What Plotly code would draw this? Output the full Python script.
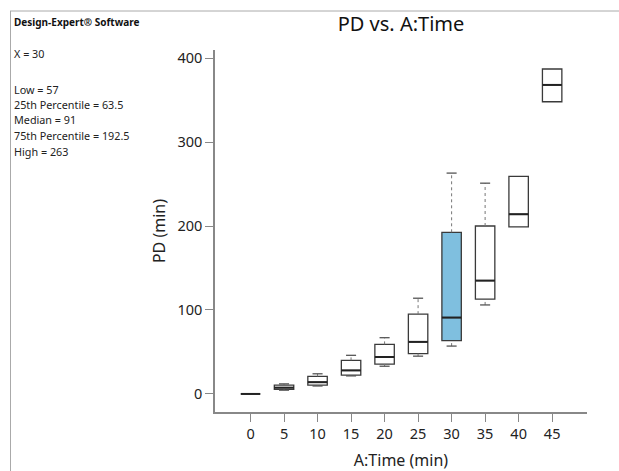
import plotly.graph_objects as go

times = [0, 5, 10, 15, 20, 25, 30, 35, 40, 45]
low = [0, 4.5, 9.5, 21.5, 33, 45, 57, 106, 199, 348]
q1 = [0, 5.5, 10.5, 22.5, 35.5, 48, 63.5, 113, 199, 348]
median = [0, 7.5, 14, 28, 44, 62, 91, 135, 214, 368]
q3 = [0, 10.5, 21, 40, 59, 95, 192.5, 200, 259, 387]
high = [0, 12, 24, 46, 67, 114, 263, 251, 259, 387]
selected = 30
info_lines = ["X = 30", "", "Low = 57", "25th Percentile = 63.5", "Median = 91",
              "75th Percentile = 192.5", "High = 263"]

FONT = "Noto Sans"
box_w = 2.9
cap_w = 1.5

fig = go.Figure()
for i, t in enumerate(times):
    fig.add_trace(go.Box(
        x=[t], q1=[q1[i]], median=[median[i]], q3=[q3[i]],
        lowerfence=[q1[i]], upperfence=[q3[i]],
        width=box_w, whiskerwidth=0,
        fillcolor="#7fbfdf" if t == selected else "white",
        line=dict(color="#3a3a3a", width=1.3),
        boxpoints=False, hoverinfo="skip", showlegend=False))

wx, wy, cx, cy, mx, my = [], [], [], [], [], []
for i, t in enumerate(times):
    if high[i] > q3[i]:
        wx += [t, t, None]; wy += [q3[i], high[i], None]
        cx += [t - cap_w / 2, t + cap_w / 2, None]; cy += [high[i], high[i], None]
    if low[i] < q1[i]:
        wx += [t, t, None]; wy += [low[i], q1[i], None]
        cx += [t - cap_w / 2, t + cap_w / 2, None]; cy += [low[i], low[i], None]
    mx += [t - box_w / 2, t + box_w / 2, None]; my += [median[i], median[i], None]
fig.add_trace(go.Scatter(x=wx, y=wy, mode="lines", line=dict(color="#777", width=1, dash="dot"),
                         showlegend=False, hoverinfo="skip"))
fig.add_trace(go.Scatter(x=cx, y=cy, mode="lines", line=dict(color="#555", width=1.3),
                         showlegend=False, hoverinfo="skip"))
fig.add_trace(go.Scatter(x=mx, y=my, mode="lines", line=dict(color="#222", width=2),
                         showlegend=False, hoverinfo="skip"))

L, T, W, H = 215, 50, 372, 362
def px(x): return (x - L) / W
def py(y): return (T + H - y) / H

annotations = [dict(text="<b>Design-Expert® Software</b>", x=px(12), y=py(22), xref="paper", yref="paper",
                    xanchor="left", yanchor="middle", showarrow=False,
                    font=dict(family=FONT, size=10, color="#111"))]
ys = [54, None, 89, 104.3, 119.5, 135.3, 151]
for txt, yy in zip(info_lines, ys):
    if not txt:
        continue
    annotations.append(dict(text=txt, x=px(12), y=py(yy), xref="paper", yref="paper",
                            xanchor="left", yanchor="middle", showarrow=False,
                            font=dict(family=FONT, size=10.8, color="#222")))

shapes = [
    dict(type="line", xref="paper", yref="paper", x0=px(10.5), x1=px(10.5), y0=py(471), y1=py(11),
         line=dict(color="#aaa", width=1)),
    dict(type="line", xref="paper", yref="paper", x0=px(10), x1=px(619), y0=py(11), y1=py(11),
         line=dict(color="#aaa", width=1)),
]

fig.update_layout(
    width=619, height=471,
    margin=dict(l=L, r=619 - L - W, t=T, b=471 - T - H),
    paper_bgcolor="white", plot_bgcolor="white",
    title=dict(text="PD vs. A:Time", x=0.5, xref="paper", y=1 - 24 / 471, yanchor="middle",
               font=dict(family=FONT, size=20, color="#111")),
    xaxis=dict(range=[-5.3, 50.2], tickmode="array", tickvals=times, ticktext=[str(t) for t in times],
               showline=True, linecolor="#888", linewidth=1.5, ticks="outside", ticklen=8,
               tickcolor="#888", showgrid=False, zeroline=False, automargin=False,
               tickfont=dict(family=FONT, size=14.5, color="#222"),
               title=dict(text="A:Time (min)", font=dict(family=FONT, size=16, color="#222"), standoff=15)),
    yaxis=dict(range=[-21.5, 409.6], tickmode="linear", tick0=0, dtick=100,
               showline=True, linecolor="#888", linewidth=1.5, ticks="outside", ticklen=8,
               tickcolor="#888", showgrid=False, zeroline=False, automargin=False,
               tickfont=dict(family=FONT, size=14.5, color="#222"),
               title=dict(text="PD (min)", font=dict(family=FONT, size=16, color="#222"), standoff=8)),
    annotations=annotations, shapes=shapes,
    boxgap=0,
)
fig.write_html("out.html")
